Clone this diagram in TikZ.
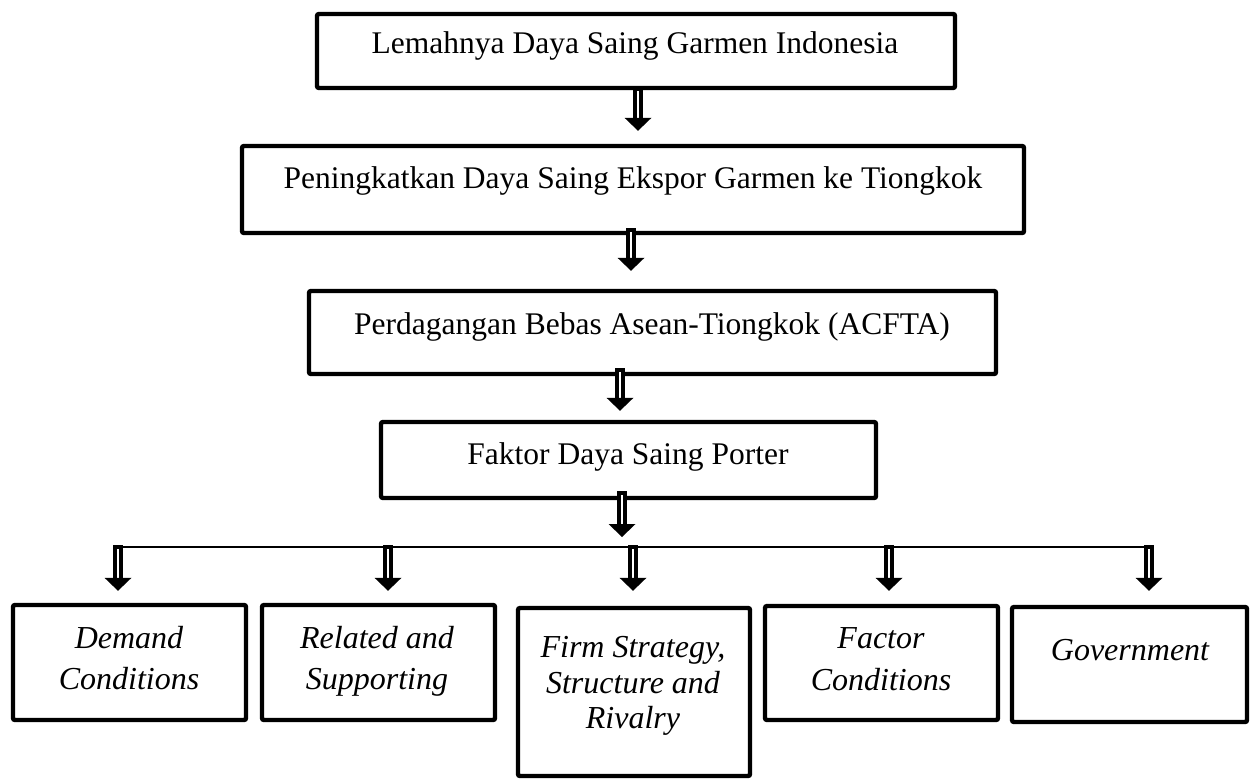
\documentclass[tikz,border=0pt]{standalone}
\usepackage{fontspec}
\setmainfont{Liberation Serif}
\usetikzlibrary{calc,fit}
\tikzset{
  boxs/.style={draw, line width=2.2pt, inner sep=0pt, rounded corners=1pt},
  lbl/.style={anchor=base, inner sep=0pt, font=\fontsize{15.75}{18}\selectfont},
  ilbl/.style={anchor=base, inner sep=0pt, font=\fontsize{16}{18}\selectfont\itshape},
  hline/.style={line width=0.9pt}
}
\newcommand\darr[2]{%
  \coordinate (ds) at (#1);
  \coordinate (dt) at (#2);
  \fill[black] ($(ds)+(-5,0)$) rectangle ($(dt)+(5,-12)$);
  \fill[white] ($(ds)+(-1.4,4)$) rectangle ($(dt)+(1.4,-12)$);
  \fill[black] ($(dt)+(-13.5,-13)$) -- ($(dt)+(13.5,-13)$) -- (dt) -- cycle;}
\begin{document}
\begin{tikzpicture}[x=0.5pt,y=-0.5pt]
\useasboundingbox (0,0) rectangle (1251,781);
% upper boxes
\node[boxs, fit={(317,14) (955,88)}] (b1) {};
\node[boxs, fit={(242,146) (1024,233)}] (b2) {};
\node[boxs, fit={(309,291) (996,374)}] (b3) {};
\node[boxs, fit={(381,422) (876,498)}] (b4) {};
\node[lbl] (t1) at (635,54) {Lemahnya Daya Saing Garmen Indonesia};
\node[lbl] (t2) at (633,188) {Peningkatkan Daya Saing Ekspor Garmen ke Tiongkok};
\node[lbl] (t3) at (652,334) {Perdagangan Bebas Asean-Tiongkok (ACFTA)};
\node[lbl] (t4) at (628,464) {Faktor Daya Saing Porter};
% bottom boxes
\node[boxs, fit={(13,605) (246,720)}] (d1) {};
\node[boxs, fit={(262,605) (495,720)}] (d2) {};
\node[boxs, fit={(518,608) (750,776)}] (d3) {};
\node[boxs, fit={(765,606) (998,720)}] (d4) {};
\node[boxs, fit={(1012,607) (1247,722)}] (d5) {};
\node[ilbl] (s1a) at (129,648) {Demand};
\node[ilbl] (s1b) at (129,689) {Conditions};
\node[ilbl] (s2a) at (377,648) {Related and};
\node[ilbl] (s2b) at (377,689) {Supporting};
\node[ilbl] (s3a) at (633,657) {Firm Strategy,};
\node[ilbl] (s3b) at (633,693) {Structure and};
\node[ilbl] (s3c) at (633,728) {Rivalry};
\node[ilbl] (s4a) at (881,648) {Factor};
\node[ilbl] (s4b) at (881,690) {Conditions};
\node[ilbl] (s5a) at (1130,660) {Government};
% arrow x positions
\coordinate (ax1) at (638,0);
\coordinate (ax2) at (631,0);
\coordinate (ax3) at (620,0);
\coordinate (ax4) at (622,0);
\coordinate (bx1) at (118,0);
\coordinate (bx2) at (388,0);
\coordinate (bx3) at (633,0);
\coordinate (bx4) at (889,0);
\coordinate (bx5) at (1149,0);
\coordinate (hl) at (0,547);
% vertical chain
\darr{$(ax1 |- b1.south)+(0,-3)$}{$(ax1 |- b2.north)+(0,-13)$}
\darr{$(ax2 |- b2.south)+(0,-7)$}{$(ax2 |- b3.north)+(0,-18)$}
\darr{$(ax3 |- b3.south)+(0,-8)$}{$(ax3 |- b4.north)+(0,-9)$}
\darr{$(ax4 |- b4.south)+(0,-9)$}{$(ax4 |- hl)+(0,-10)$}
% distribution line
\draw[hline] (bx1 |- hl) -- (bx5 |- hl);
\darr{$(bx1 |- hl)+(0,-2)$}{$(bx1 |- d1.north)+(0,-12)$}
\darr{$(bx2 |- hl)+(0,-2)$}{$(bx2 |- d2.north)+(0,-12)$}
\darr{$(bx3 |- hl)+(0,-2)$}{$(bx3 |- d3.north)+(0,-15)$}
\darr{$(bx4 |- hl)+(0,-2)$}{$(bx4 |- d4.north)+(0,-13)$}
\darr{$(bx5 |- hl)+(0,-2)$}{$(bx5 |- d5.north)+(0,-14)$}
\end{tikzpicture}
\end{document}
